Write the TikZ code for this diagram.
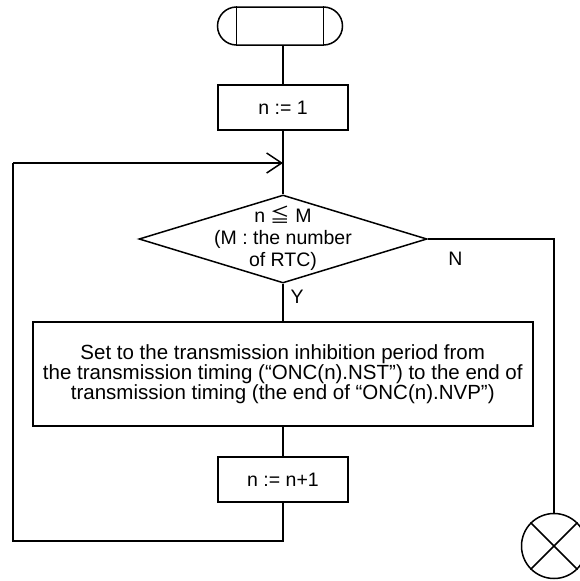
\documentclass[tikz,border=0pt]{standalone}
\usepackage{fontspec}
\setmainfont{Liberation Sans}
\newfontfamily\cjk{Noto Sans CJK JP}
\usetikzlibrary{positioning, arrows.meta, shapes.geometric, shapes.misc}

\begin{document}
\begin{tikzpicture}[x=1pt, y=-1pt, line width=1.5pt,
  font=\fontsize{19.5}{22}\selectfont, >={Straight Barb[length=15pt, width=20pt]},
  box/.style={draw, rectangle, minimum width=130pt, minimum height=45pt, align=center, inner sep=0pt}]
  \useasboundingbox (0,0) rectangle (579,581);
  % terminal
  \node[draw, rounded rectangle, minimum width=125pt, minimum height=38pt, inner sep=0pt] (term) at (280,26) {};
  \draw ([xshift=-43.5pt]term.north) -- ([xshift=-43.5pt]term.south);
  \draw ([xshift=43.5pt]term.north) -- ([xshift=43.5pt]term.south);
  \node[box] (init) at (283,107.5) {n := 1};
  \node[draw, diamond, minimum width=288pt, minimum height=88pt, inner sep=0pt, aspect=3.27] (cond) at (283,239) {};
  \node[align=center, inner sep=0pt] (condtext) at ([yshift=1pt]cond.center) {n {\cjk ≦} M\\(M : the number\\of RTC)};
  \node[box, minimum width=500pt, minimum height=104pt, font=\fontsize{20.5}{20.3}\selectfont] (set) at (282.75,374) {Set to the transmission inhibition period from\\the transmission timing (“ONC(n).NST”) to the end of\\transmission timing (the end of “ONC(n).NVP”)};
  \node[box] (incr) at (283,479.5) {n := n+1};
  \node[draw, circle, minimum size=65pt, inner sep=0pt] (stop) at (554,546) {};
  \draw (stop.north west) -- (stop.south east) (stop.north east) -- (stop.south west);
  \node (no) at (455.5,258.5) {N};
  \node (yes) at (297,296.5) {Y};
  % connectors
  \coordinate (loopbl) at (13,541);
  \coordinate (looptl) at (13,163);
  \coordinate (join) at (283,163);
  \draw (init.north |- term.south) -- (init.north);
  \draw (init) -- (cond);
  \draw (cond) -- (set.north -| cond.south);
  \draw (set.south -| incr.north) -- (incr);
  \draw (incr.south) |- (loopbl) -- (looptl);
  \draw[->] (looptl) -- (join);
  \draw (cond.east) -| (stop.north);
\end{tikzpicture}
\end{document}
